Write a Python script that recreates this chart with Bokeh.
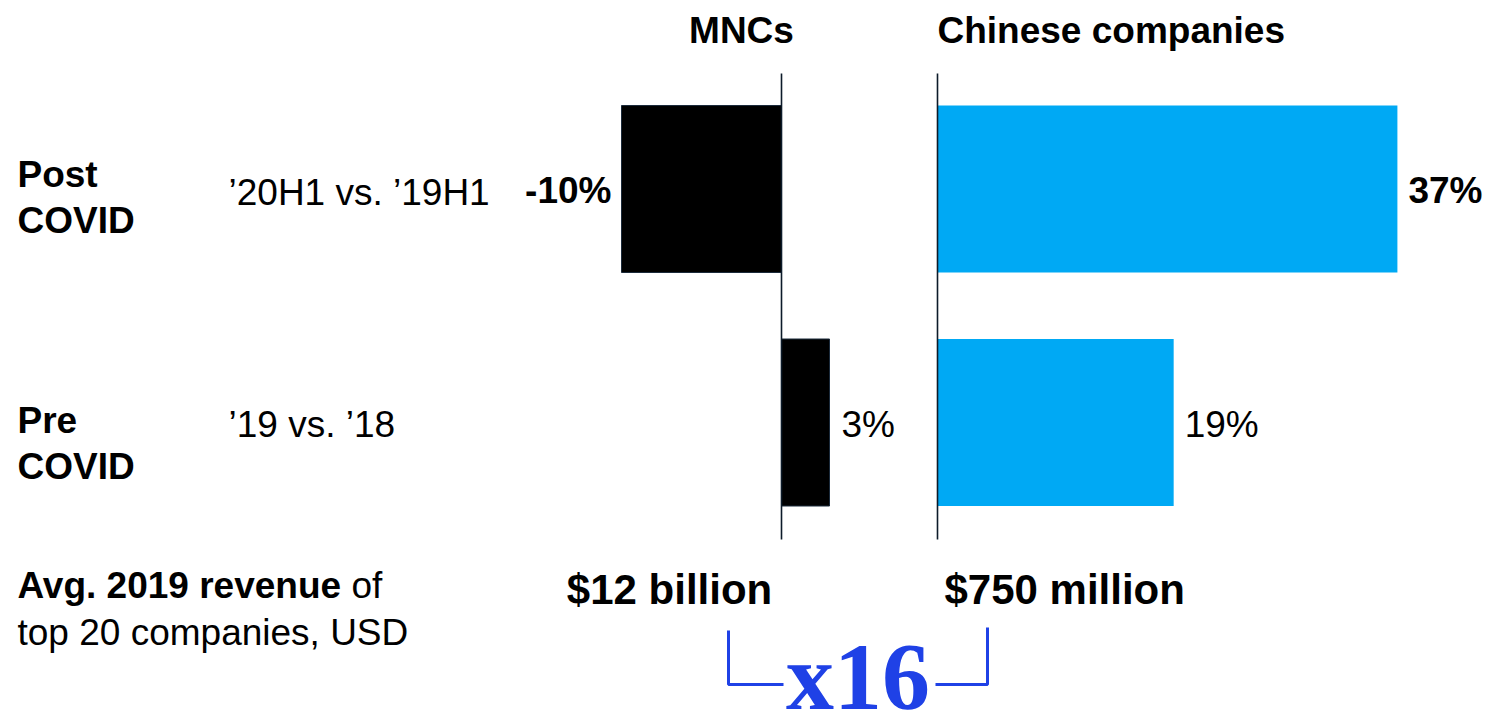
from bokeh.plotting import figure
from bokeh.models import Range1d
from bokeh.core.properties import value
from bokeh.embed import file_html
from bokeh.resources import INLINE

# ---------------- data ----------------
groups = ["MNCs", "Chinese companies"]
period_line1 = ["Post", "Pre"]
period_line2 = ["COVID", "COVID"]
comparisons = ["\u201920H1 vs. \u201919H1", "\u201919 vs. \u201918"]
mnc_growth = [-10, 3]          # % revenue growth, MNCs
cn_growth = [37, 19]           # % revenue growth, Chinese companies
revenue_labels = ["$12 billion", "$750 million"]
revenue_caption_bold = "Avg. 2019 revenue"
revenue_caption_rest = "of"
revenue_caption_line2 = "top 20 companies, USD"
multiple_label = "x16"

# ---------------- styles / layout ----------------
W, H = 1486, 713
FONT = "Liberation Sans"
BLACK_BAR = "#000000"
BLUE_BAR = "#00a9f4"
AXIS_COL = "#0d1b2a"
BRACKET_COL = "#1f41e6"

row_centers = [188.5, 422.0]
bar_height = 167
mnc_zero_px, mnc_px_per = 781.0, 16.0
cn_zero_px, cn_px_per = 937.0, 12.43

p = figure(width=W, height=H, output_backend="svg", toolbar_location=None,
           x_range=Range1d(0, W), y_range=Range1d(H, 0), min_border=0)
p.extra_x_ranges = {
    "mnc": Range1d(-mnc_zero_px / mnc_px_per, (W - mnc_zero_px) / mnc_px_per),
    "cn": Range1d(-cn_zero_px / cn_px_per, (W - cn_zero_px) / cn_px_per),
}
p.axis.visible = False
p.grid.visible = False
p.outline_line_color = None
p.background_fill_color = "white"
p.border_fill_color = "white"

# bars
p.hbar(y=row_centers, left=0, right=mnc_growth, height=bar_height,
       x_range_name="mnc", fill_color=BLACK_BAR, line_color="#1b2a3a", line_width=1)
p.hbar(y=row_centers, left=0, right=cn_growth, height=bar_height,
       x_range_name="cn", fill_color=BLUE_BAR, line_color=None)

# zero lines
for rn in ["mnc", "cn"]:
    p.segment(x0=[0], x1=[0], y0=[73], y1=[539], x_range_name=rn,
              line_color=AXIS_COL, line_width=1.6)

def txt(x, y, s, size=37, style="normal", align="left", color="black",
        font=FONT, rn="default", xoff=0):
    # y is the visual baseline; correct for renderer's baseline shift
    p.text(x=[x], y=[y - 0.35 * size], text=[s], text_font=value(font),
           text_font_size=f"{size}px",
           text_font_style=style, text_align=align, text_baseline="alphabetic",
           text_color=color, x_range_name=rn, x_offset=xoff)

# headers
txt(741, 43, groups[0], style="bold", align="center")
txt(0, 43, groups[1], style="bold", align="left", rn="cn")

# value labels
baselines = [203, 437]
styles = ["bold", "normal"]
for i in range(2):
    v = mnc_growth[i]
    lab = f"{v}%"
    if v < 0:
        txt(v, baselines[i], lab, style=styles[i], align="right", rn="mnc", xoff=-10)
    else:
        txt(v, baselines[i], lab, style=styles[i], align="left", rn="mnc", xoff=12)
    c = cn_growth[i]
    txt(c, baselines[i], f"{c}%", style=styles[i], align="left", rn="cn", xoff=11)

# row labels
row_base1 = [187, 433]
row_base2 = [233, 479]
comp_base = [205, 437]
for i in range(2):
    txt(17, row_base1[i], period_line1[i], style="bold")
    txt(17, row_base2[i], period_line2[i], style="bold")
    txt(228, comp_base[i], comparisons[i])

# revenue caption
txt(17, 598, revenue_caption_bold, style="bold")
txt(351, 598, revenue_caption_rest)
txt(17, 645, revenue_caption_line2)

# revenue values
txt(669, 604, revenue_labels[0], size=42, style="bold", align="center")
txt(944, 604, revenue_labels[1], size=42, style="bold", align="left")

# bracket
p.line(x=[728, 728, 783], y=[630, 684, 684], line_color=BRACKET_COL, line_width=3)
p.line(x=[935, 987, 987], y=[684, 684, 627], line_color=BRACKET_COL, line_width=3)
txt(857.5, 710, multiple_label, size=96, style="bold", align="center",
    color=BRACKET_COL, font="Liberation Serif")

open("out.html", "w").write(file_html(p, INLINE))
